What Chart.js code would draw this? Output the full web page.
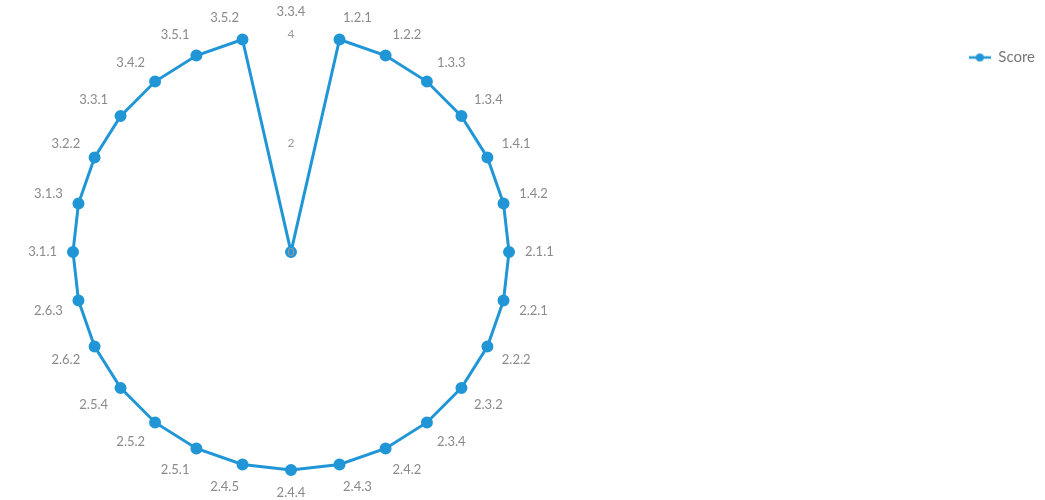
<!DOCTYPE html>
<html>
<head>
<meta charset="utf-8">
<script src="https://cdn.jsdelivr.net/npm/chart.js@4"></script>
<style>
  html, body { margin: 0; padding: 0; background: #ffffff; }
  #wrap { width: 1045px; height: 500px; position: relative; }
</style>
</head>
<body>
<div id="wrap"><canvas id="c"></canvas></div>
<script>
const categories = ['3.3.4','1.2.1','1.2.2','1.3.3','1.3.4','1.4.1','1.4.2','2.1.1','2.2.1','2.2.2','2.3.2','2.3.4','2.4.2','2.4.3','2.4.4','2.4.5','2.5.1','2.5.2','2.5.4','2.6.2','2.6.3','3.1.1','3.1.3','3.2.2','3.3.1','3.4.2','3.5.1','3.5.2'];
const scoreValues = [0,4,4,4,4,4,4,4,4,4,4,4,4,4,4,4,4,4,4,4,4,4,4,4,4,4,4,4];
const tickValues = [0, 2, 4];
const seriesName = 'Score';

const BLUE = '#2196d6';

function legendIcon(color) {
  const c = document.createElement('canvas');
  c.width = 22; c.height = 10;
  const g = c.getContext('2d');
  g.strokeStyle = color; g.lineWidth = 2.5;
  g.beginPath(); g.moveTo(0, 5); g.lineTo(22, 5); g.stroke();
  g.fillStyle = color;
  g.beginPath(); g.arc(11, 5, 4, 0, Math.PI * 2); g.fill();
  return c;
}

// empty layout box that reserves space between the radar and the legend
const spacerPlugin = {
  id: 'spacer',
  beforeInit(chart) {
    const box = {
      position: 'right', weight: 0, fullSize: true, options: {},
      top: 0, left: 0, right: 0, bottom: 0, width: 0, height: 0,
      isHorizontal() { return false; },
      update(maxWidth, maxHeight) { this.width = 341; this.height = maxHeight; },
      draw() {}
    };
    Chart.layouts.addBox(chart, box);
  }
};

new Chart(document.getElementById('c'), {
  type: 'radar',
  data: {
    labels: categories,
    datasets: [{
      label: seriesName,
      data: scoreValues,
      borderColor: BLUE,
      backgroundColor: BLUE,
      pointBackgroundColor: BLUE,
      pointBorderColor: BLUE,
      borderWidth: 3,
      pointRadius: 4.5,
      pointHoverRadius: 5,
      fill: false,
      tension: 0
    }]
  },
  options: {
    responsive: true,
    maintainAspectRatio: false,
    animation: false,
    layout: { padding: { top: 5, bottom: 0, left: 0, right: 0 } },
    plugins: {
      legend: {
        position: 'right',
        align: 'start',
        labels: {
          usePointStyle: true,
          pointStyle: legendIcon(BLUE),
          pointStyleWidth: 22,
          padding: 45,
          color: '#777',
          font: { family: 'Lato', size: 15 }
        }
      },
      tooltip: { enabled: false }
    },
    scales: {
      r: {
        min: -0.001,
        max: 4,
        afterBuildTicks: (s) => { s.ticks = tickValues.map(v => ({ value: v })); },
        grid: { display: false },
        angleLines: { display: false },
        ticks: {
          display: true,
          showLabelBackdrop: false,
          backdropPadding: -6,
          color: '#999',
          z: 1,
          font: { family: 'Lato', size: 12 }
        },
        pointLabels: {
          color: '#8a8a8a',
          padding: 16,
          font: { family: 'Lato', size: 13, lineHeight: 1 }
        }
      }
    }
  },
  plugins: [spacerPlugin]
});
</script>
</body>
</html>
